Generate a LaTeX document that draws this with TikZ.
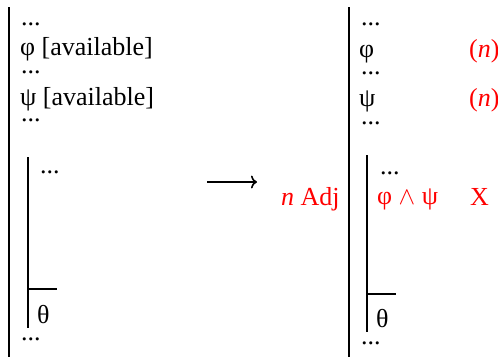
\documentclass[tikz,border=0pt]{standalone}
\usepackage{fontspec}
\usetikzlibrary{arrows.meta}
\setmainfont{Liberation Serif}
\begin{document}
\begin{tikzpicture}[x=1pt,y=-1pt,
  txt/.style={anchor=base west, inner sep=0pt, font=\fontsize{26}{30}\selectfont},
  hl/.style={text=red},
  bar/.style={line width=1.7pt},
  arr/.style={line width=1.6pt,-{To[length=6pt,width=13pt]}}]
\useasboundingbox (0,0) rectangle (498,357);
% left derivation
\draw[bar] (9,7) -- (9,357);
\node[txt] (l1) at (21,25) {...};
\node[txt] (l2) at (20,55) {φ [available]};
\node[txt] (l3) at (21,73) {...};
\node[txt] (l4) at (20,105) {ψ [available]};
\node[txt] (l5) at (21,121) {...};
\draw[bar] (28,157) -- (28,328);
\node[txt] (l6) at (40,173) {...};
\draw[bar] (28,289) -- (57,289);
\node[txt] (l7) at (37,323) {θ};
\node[txt] (l8) at (21,340) {...};
% arrow
\coordinate (a1) at (207,182);
\coordinate (a2) at (257,182);
\draw[arr] (a1) -- (a2);
\node[txt,hl] (adj) at (281,205) {\textit{n} Adj};
% right derivation
\draw[bar] (349,7) -- (349,357);
\node[txt] (r1) at (361,25) {...};
\node[txt] (r2) at (359,57) {φ};
\node[txt] (r3) at (361,74) {...};
\node[txt] (r4) at (359,106) {ψ};
\node[txt] (r5) at (361,124) {...};
\node[txt,hl] (n1) at (469,57) {(\textit{n})};
\node[txt,hl] (n2) at (469,106) {(\textit{n})};
\draw[bar] (367,155) -- (367,332);
\node[txt] (r6) at (380,174) {...};
\node[txt,hl] (r7) at (377,204) {φ $\wedge$ ψ};
\node[txt,hl] (rx) at (470,205) {X};
\draw[bar] (367,294) -- (396,294);
\node[txt] (r8) at (376,327) {θ};
\node[txt] (r9) at (361,344) {...};
\end{tikzpicture}
\end{document}
